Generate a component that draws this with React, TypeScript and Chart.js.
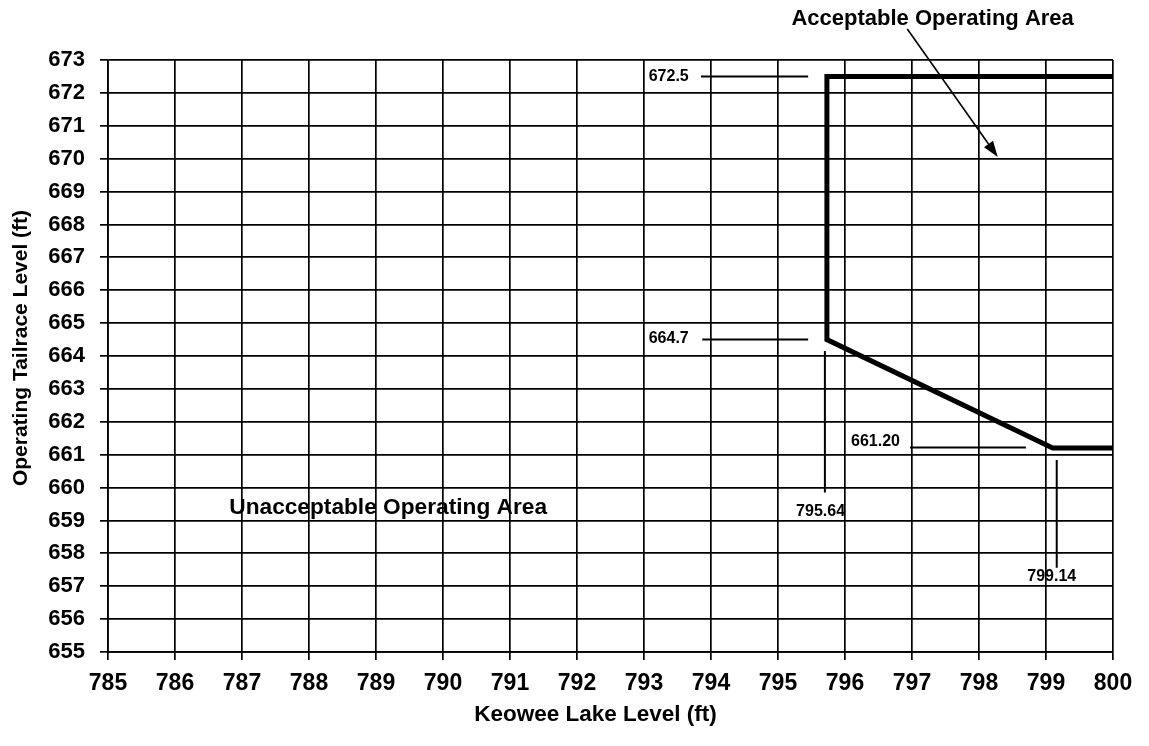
import React, { useEffect, useRef } from "react";
import { Chart, registerables } from "chart.js";

Chart.register(...registerables);

// Axis ranges / ticks
const xMin = 785;
const xMax = 800;
const yMin = 655;
const yMax = 673;
const tickStep = 1;

// Operating boundary (thick line)
const boundaryX = [800, 795.73, 795.73, 799.1, 800];
const boundaryY = [672.5, 672.5, 664.5, 661.2, 661.2];

// Thin leader lines (each: two points)
const leader1X = [793.85, 795.45];
const leader1Y = [672.5, 672.5];
const leader2X = [793.87, 795.45];
const leader2Y = [664.5, 664.5];
const leader3X = [795.7, 795.7];
const leader3Y = [664.15, 659.85];
const leader4X = [796.97, 798.7];
const leader4Y = [661.22, 661.22];
const leader5X = [799.16, 799.16];
const leader5Y = [660.84, 657.56];

// Value labels
const valueLabels = ["672.5", "664.7", "795.64", "661.20", "799.14"];
const valueLabelX = [793.07, 793.07, 795.27, 796.09, 798.72];
const valueLabelY = [672.5, 664.52, 659.26, 661.39, 657.29];

// Region labels
const regionLabels = ["Unacceptable Operating Area", "Acceptable Operating Area"];
const regionLabelX = [786.81, 795.2];
const regionLabelY = [659.38, 674.25];

// Arrow (from, to)
const arrowX = [796.93, 798.28];
const arrowY = [673.94, 670.05];

const xTitle = "Keowee Lake Level (ft)";
const yTitle = "Operating Tailrace Level (ft)";

const FONT = '"Liberation Sans", Arial, Helvetica, sans-serif';

function pts(xs: number[], ys: number[]) {
  return xs.map((x, i) => ({ x, y: ys[i] }));
}

const annotationPlugin = {
  id: "annotations",
  afterDraw(chart: any) {
    const ctx: CanvasRenderingContext2D = chart.ctx;
    const xs = chart.scales.x;
    const ys = chart.scales.y;
    const area = chart.chartArea;
    ctx.save();
    ctx.fillStyle = "#000";
    ctx.strokeStyle = "#000";

    // value labels
    ctx.font = `bold 16px ${FONT}`;
    ctx.textAlign = "left";
    ctx.textBaseline = "middle";
    valueLabels.forEach((t, i) => {
      ctx.fillText(t, xs.getPixelForValue(valueLabelX[i]), ys.getPixelForValue(valueLabelY[i]));
    });

    // region labels
    ctx.font = `bold 22.7px ${FONT}`;
    ctx.fillText(regionLabels[0], xs.getPixelForValue(regionLabelX[0]), ys.getPixelForValue(regionLabelY[0]));
    ctx.font = `bold 22px ${FONT}`;
    ctx.fillText(regionLabels[1], xs.getPixelForValue(regionLabelX[1]), ys.getPixelForValue(regionLabelY[1]));

    // arrow
    const x0 = xs.getPixelForValue(arrowX[0]);
    const y0 = ys.getPixelForValue(arrowY[0]);
    const x1 = xs.getPixelForValue(arrowX[1]);
    const y1 = ys.getPixelForValue(arrowY[1]);
    const ang = Math.atan2(y1 - y0, x1 - x0);
    const headLen = 16;
    const headHalf = 5.5;
    const bx = x1 - headLen * Math.cos(ang);
    const by = y1 - headLen * Math.sin(ang);
    ctx.lineWidth = 1.6;
    ctx.beginPath();
    ctx.moveTo(x0, y0);
    ctx.lineTo(bx, by);
    ctx.stroke();
    ctx.beginPath();
    ctx.moveTo(x1, y1);
    ctx.lineTo(bx + headHalf * Math.sin(ang), by - headHalf * Math.cos(ang));
    ctx.lineTo(bx - headHalf * Math.sin(ang), by + headHalf * Math.cos(ang));
    ctx.closePath();
    ctx.fill();

    // axis titles
    ctx.font = `bold 22.5px ${FONT}`;
    ctx.textAlign = "center";
    ctx.textBaseline = "middle";
    ctx.fillText(xTitle, (area.left + area.right) / 2 - 15, chart.height - 31);

    ctx.font = `bold 21px ${FONT}`;
    ctx.translate(21, (area.top + area.bottom) / 2 - 8);
    ctx.rotate(-Math.PI / 2);
    ctx.fillText(yTitle, 0, 0);
    ctx.restore();
  },
};

export default function App() {
  const canvasRef = useRef<HTMLCanvasElement | null>(null);

  useEffect(() => {
    document.body.style.margin = "0";
    document.body.style.overflow = "hidden";
    const canvas = canvasRef.current;
    if (!canvas) return;

    const thin = (xs: number[], ys: number[]) => ({
      data: pts(xs, ys),
      borderColor: "#000",
      borderWidth: 2,
      pointRadius: 0,
      fill: false,
      tension: 0,
    });

    const chart = new Chart(canvas, {
      type: "line",
      data: {
        datasets: [
          {
            data: pts(boundaryX, boundaryY),
            borderColor: "#000",
            borderWidth: 5,
            pointRadius: 0,
            fill: false,
            tension: 0,
            borderJoinStyle: "miter",
            borderCapStyle: "butt",
          } as any,
          thin(leader1X, leader1Y),
          thin(leader2X, leader2Y),
          thin(leader3X, leader3Y),
          thin(leader4X, leader4Y),
          thin(leader5X, leader5Y),
        ],
      },
      options: {
        animation: false,
        responsive: false,
        devicePixelRatio: 1,
        layout: { padding: { left: 0, top: 60, right: 36, bottom: 0 } },
        plugins: {
          legend: { display: false },
          tooltip: { enabled: false },
        },
        scales: {
          x: {
            type: "linear",
            min: xMin,
            max: xMax,
            afterFit: (s: any) => {
              s.height = 94;
            },
            ticks: {
              stepSize: tickStep,
              color: "#000",
              padding: 10,
              maxRotation: 0,
              autoSkip: false,
              font: { family: FONT, size: 23, weight: "bold" },
            },
            grid: { color: "#000", lineWidth: 1.7, tickLength: 8, drawTicks: true },
            border: { color: "#000", width: 1.7 },
          },
          y: {
            type: "linear",
            min: yMin,
            max: yMax,
            afterFit: (s: any) => {
              s.width = 108;
            },
            ticks: {
              stepSize: tickStep,
              color: "#000",
              padding: 15,
              autoSkip: false,
              font: { family: FONT, size: 22, weight: "bold" },
            },
            grid: { color: "#000", lineWidth: 1.7, tickLength: 8, drawTicks: true },
            border: { color: "#000", width: 1.7 },
          },
        },
      } as any,
      plugins: [annotationPlugin],
    });

    return () => chart.destroy();
  }, []);

  return (
    <div style={{ width: 1149, height: 746, background: "#fff" }}>
      <canvas ref={canvasRef} width={1149} height={746} style={{ display: "block" }} />
    </div>
  );
}
